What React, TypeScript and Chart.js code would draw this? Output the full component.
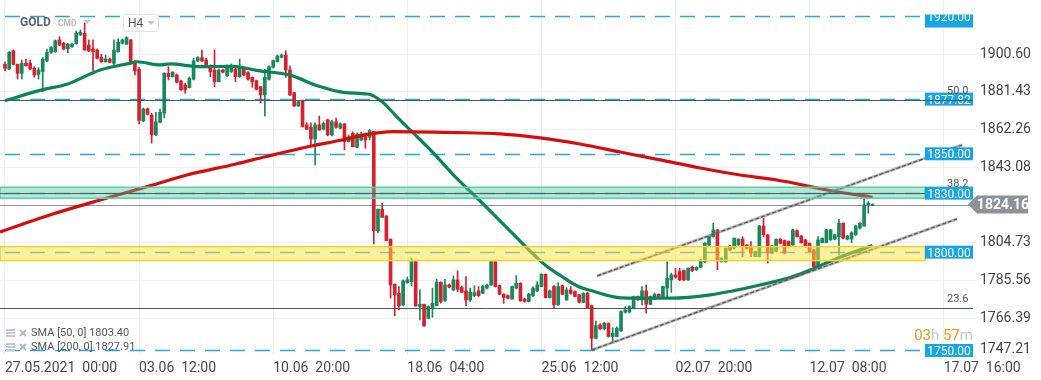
import React, { useEffect, useRef } from 'react';
import { Chart, registerables } from 'chart.js';

Chart.register(...registerables);

// ---- candle data (H4, GOLD) ----
const opens = [1895.5,1893.1,1902.3,1895.5,1890.9,1896.0,1896.0,1893.5,1890.4,1891.8,
1897.2,1901.6,1901.9,1907.9,1906.2,1903.3,1904.5,1906.0,1910.4,1911.3,
1905.3,1903.3,1902.8,1899.1,1896.8,1898.2,1896.0,1901.9,1906.2,1905.7,
1907.9,1896.8,1892.9,1866.7,1872.8,1869.7,1859.6,1866.0,1870.6,1890.9,
1889.2,1890.1,1887.0,1885.0,1883.6,1887.9,1897.2,1898.9,1897.7,1893.8,
1892.6,1886.7,1892.6,1889.7,1891.8,1893.0,1889.2,1893.0,1891.3,1888.9,
1887.2,1884.1,1879.9,1887.9,1894.0,1896.8,1899.1,1900.2,1892.6,1881.1,
1874.3,1876.9,1864.7,1863.5,1857.5,1864.7,1862.5,1867.2,1859.6,1866.3,
1863.0,1865.2,1856.2,1860.4,1853.3,1857.0,1860.4,1858.4,1861.3,1810.9,
1821.8,1818.4,1806.6,1783.7,1779.1,1773.2,1784.5,1785.0,1795.2,1772.3,
1773.5,1766.4,1771.5,1772.8,1784.7,1775.4,1783.3,1780.8,1785.9,1782.0,
1780.3,1775.7,1777.9,1780.3,1779.1,1781.7,1783.3,1795.2,1783.0,1778.6,
1777.9,1776.2,1781.7,1784.2,1776.2,1774.9,1777.9,1780.3,1782.5,1788.8,
1776.9,1782.5,1773.2,1783.0,1775.7,1780.8,1779.9,1778.3,1774.5,1779.1,
1772.8,1756.2,1763.0,1761.0,1763.9,1757.1,1757.1,1759.9,1769.5,1769.5,
1771.5,1777.4,1775.7,1780.3,1773.5,1776.2,1778.6,1777.4,1781.7,1785.9,
1788.4,1790.1,1790.6,1785.9,1792.3,1791.0,1792.3,1795.2,1803.7,1807.9,
1811.3,1795.2,1795.2,1802.8,1802.0,1803.7,1806.6,1803.7,1802.8,1797.7,
1797.7,1813.3,1808.8,1799.5,1800.3,1806.6,1805.9,1805.4,1803.7,1810.9,
1808.2,1806.2,1804.5,1801.1,1792.6,1804.8,1804.8,1806.2,1806.6,1807.9,
1814.7,1806.6,1806.6,1808.8,1812.2,1813.3,1824.0,1823.9];

const highs = [1896.8,1901.9,1902.8,1895.7,1897.7,1898.1,1897.7,1894.3,1893.8,1898.9,
1903.3,1904.5,1907.9,1909.6,1906.7,1906.2,1906.3,1912.4,1913.0,1916.5,
1907.9,1907.9,1903.3,1900.6,1900.2,1898.7,1907.9,1908.4,1908.4,1909.6,
1908.1,1897.7,1894.0,1873.3,1873.3,1870.6,1871.1,1872.8,1891.2,1894.3,
1891.8,1890.6,1887.5,1885.9,1889.1,1898.6,1899.4,1902.8,1898.6,1895.2,
1902.8,1893.1,1893.1,1895.2,1895.7,1893.5,1898.1,1893.6,1891.8,1889.1,
1887.5,1884.3,1893.0,1894.7,1897.7,1900.2,1900.8,1902.4,1894.7,1881.3,
1876.9,1877.4,1865.8,1865.8,1865.8,1869.2,1866.2,1867.7,1867.2,1868.1,
1865.7,1865.4,1859.6,1861.1,1860.6,1861.1,1860.6,1862.5,1861.5,1822.0,
1824.9,1818.6,1806.7,1783.8,1782.5,1785.9,1787.3,1796.9,1795.5,1780.8,
1773.6,1772.7,1781.7,1786.2,1784.9,1786.2,1783.8,1787.9,1790.5,1782.8,
1787.6,1781.7,1783.0,1782.5,1783.3,1783.8,1795.4,1795.4,1783.3,1778.8,
1778.3,1782.8,1788.1,1784.4,1776.6,1779.1,1782.5,1785.0,1788.9,1788.9,
1780.8,1783.0,1784.5,1783.3,1782.0,1782.5,1780.3,1778.6,1779.4,1779.6,
1773.0,1765.0,1763.5,1764.4,1764.0,1761.6,1762.0,1770.1,1772.3,1772.7,
1777.7,1777.7,1782.5,1783.3,1777.7,1779.1,1778.8,1782.8,1795.2,1789.3,
1791.8,1791.8,1791.0,1792.0,1793.0,1792.6,1796.4,1804.7,1808.2,1814.7,
1811.5,1797.2,1802.1,1803.4,1807.2,1806.9,1807.9,1803.9,1805.4,1800.6,
1813.6,1817.2,1809.0,1803.4,1806.7,1806.9,1806.2,1805.7,1811.6,1811.3,
1808.5,1806.6,1804.7,1801.4,1807.9,1807.2,1811.6,1811.6,1809.0,1816.7,
1814.9,1808.5,1810.4,1813.6,1815.0,1826.9,1825.7,1824.5];

const lows = [1892.1,1892.8,1895.2,1888.0,1888.0,1894.6,1892.6,1888.9,1888.0,1881.6,
1896.8,1901.1,1901.6,1905.0,1902.8,1901.4,1904.1,1905.7,1910.2,1902.6,
1901.9,1892.1,1898.2,1896.5,1896.5,1896.2,1895.5,1901.7,1905.8,1905.5,
1896.6,1890.1,1865.2,1866.2,1869.7,1855.4,1859.2,1865.7,1868.4,1887.5,
1889.0,1886.0,1882.2,1880.8,1883.5,1887.5,1896.8,1896.8,1893.8,1889.2,
1884.1,1886.5,1891.1,1889.2,1891.3,1886.7,1888.9,1889.6,1887.5,1883.8,
1882.5,1876.0,1869.2,1887.5,1893.6,1896.7,1898.7,1888.9,1879.7,1874.1,
1874.1,1863.6,1862.3,1854.5,1844.3,1861.9,1862.1,1859.1,1859.1,1863.0,
1862.6,1852.0,1856.0,1853.5,1853.0,1856.8,1852.8,1857.0,1804.2,1809.9,
1817.6,1805.7,1776.6,1767.6,1770.6,1772.7,1784.2,1782.8,1772.4,1765.5,
1762.2,1766.1,1766.9,1772.6,1774.0,1774.9,1781.8,1780.3,1779.9,1779.3,
1772.8,1774.9,1777.4,1777.4,1778.8,1781.3,1783.1,1782.3,1778.3,1774.0,
1776.2,1776.0,1781.3,1775.0,1774.5,1774.7,1777.4,1779.9,1782.3,1776.7,
1776.6,1771.8,1772.9,1778.3,1775.5,1778.6,1777.2,1774.2,1774.2,1771.3,
1750.3,1755.9,1760.5,1760.5,1756.9,1754.2,1756.9,1759.7,1769.0,1769.1,
1771.1,1775.5,1773.2,1769.0,1773.2,1776.0,1777.2,1777.2,1777.2,1779.6,
1786.7,1785.5,1785.4,1785.6,1790.1,1790.7,1792.0,1794.7,1803.4,1807.6,
1791.0,1794.9,1795.0,1800.6,1801.6,1803.4,1797.7,1801.6,1797.7,1797.6,
1797.5,1807.9,1794.4,1799.1,1800.1,1804.2,1799.1,1802.9,1803.4,1807.6,
1804.5,1802.5,1800.1,1792.5,1792.3,1804.7,1804.7,1806.0,1806.2,1798.6,
1806.7,1806.2,1804.8,1808.5,1811.7,1813.1,1819.8,1823.7];

const closes = [1893.5,1901.6,1895.5,1890.9,1896.0,1894.8,1893.1,1890.1,1892.6,1898.2,
1901.6,1904.0,1907.5,1905.3,1903.3,1905.7,1905.8,1911.3,1911.8,1902.8,
1902.3,1901.9,1898.6,1896.8,1898.2,1896.5,1902.8,1906.7,1907.9,1909.0,
1896.8,1892.1,1867.0,1872.8,1870.1,1859.6,1866.3,1871.1,1890.9,1889.2,
1891.5,1886.4,1882.5,1882.5,1888.4,1897.2,1898.9,1897.2,1894.3,1891.8,
1886.7,1892.6,1891.5,1894.3,1893.5,1889.2,1894.0,1890.1,1887.9,1886.7,
1882.8,1879.9,1888.9,1894.3,1897.4,1899.7,1900.2,1892.6,1879.9,1874.3,
1876.5,1863.8,1862.5,1857.5,1864.7,1862.1,1865.5,1859.6,1866.3,1863.5,
1865.2,1856.2,1858.7,1853.6,1859.9,1860.1,1857.0,1861.8,1810.9,1821.8,
1817.7,1805.9,1783.3,1778.3,1772.8,1785.4,1785.9,1795.2,1772.7,1773.5,
1762.5,1772.3,1774.0,1784.7,1774.9,1783.3,1782.2,1785.9,1781.1,1779.6,
1775.7,1779.6,1779.4,1777.9,1782.5,1783.3,1795.2,1782.5,1778.6,1776.9,
1776.6,1782.5,1784.2,1775.2,1774.9,1778.6,1781.7,1783.3,1788.8,1776.9,
1780.3,1773.2,1782.5,1778.6,1780.8,1779.1,1777.4,1774.5,1779.1,1771.5,
1756.2,1762.6,1761.0,1763.9,1757.1,1758.8,1761.3,1769.8,1770.6,1772.3,
1777.4,1775.7,1780.3,1773.5,1777.4,1778.6,1777.4,1782.5,1786.7,1788.4,
1787.3,1785.9,1785.9,1791.8,1790.6,1792.3,1796.0,1804.5,1807.9,1811.3,
1796.0,1796.9,1802.0,1801.1,1807.1,1806.6,1802.8,1802.0,1799.5,1800.3,
1813.3,1808.8,1799.5,1803.2,1806.6,1804.5,1799.5,1803.2,1811.3,1807.9,
1804.8,1802.8,1800.3,1792.6,1806.2,1807.1,1811.3,1811.3,1808.8,1814.7,
1807.1,1808.2,1809.9,1813.3,1814.7,1824.0,1824.9,1824.16];

// ---- moving averages (read at sample candles) ----
const sma50Idx = [0, 8.8, 14.8, 22.7, 29.8, 31.5, 37, 39.4, 46.5, 54.4, 60.4, 68, 74.7, 81.1, 86.6, 90, 93.8, 97.9, 101.9, 107.4, 113.4, 120.5, 128.9, 132.9, 136.8, 140.8, 144.9, 148.7, 158.7, 168.3, 180.2, 188.1, 192.8, 198.6, 207];
const sma50Val = [1877.0, 1882.5, 1885.4, 1892.6, 1896.0, 1896.8, 1895.2, 1895.7, 1894.3, 1894.5, 1892.3, 1890.0, 1884.5, 1881.1, 1880.4, 1876.5, 1868.1, 1859.6, 1851.1, 1838.4, 1826.0, 1810.8, 1793.5, 1787.6, 1782.5, 1779.9, 1777.4, 1776.6, 1776.6, 1778.3, 1783.3, 1787.6, 1791.5, 1796.9, 1803.4];
const sma200Idx = [-1.2, 10.7, 22.7, 34.6, 43.4, 54.9, 62.1, 72.3, 80.4, 85.9, 92.4, 107.4, 118.1, 127.7, 137.2, 146.8, 156.3, 165.9, 175.4, 184.2, 196.2, 207];
const sma200Val = [1810.3, 1818.9, 1826.5, 1833.7, 1839.2, 1844.7, 1848.5, 1853.6, 1857.0, 1859.6, 1861.3, 1860.8, 1860.1, 1858.1, 1855.0, 1850.9, 1846.9, 1842.8, 1839.2, 1836.7, 1831.6, 1827.9];

// ---- channel (trend lines) ----
const upperChannelIdx = [141.3, 228.4];
const upperChannelVal = [1787.9, 1854.5];
const lowerChannelIdx = [140.1, 227.2];
const lowerChannelVal = [1750.3, 1816.9];

// ---- axes ----
const xTickIdx = [0, 32, 64, 96, 128, 160, 192, 224];
const xTickLabels = ['27.05.2021  00:00', '03.06  12:00', '10.06  20:00', '18.06  04:00', '25.06  12:00', '02.07  20:00', '12.07  08:00', '17.07  16:00'];
const yTickValues = [1900.60, 1881.43, 1862.26, 1843.08, 1823.91, 1804.73, 1785.56, 1766.39];
const yBottomTick = 1747.21;

// ---- levels ----
const priceLevels = [1920.00, 1877.82, 1850.00, 1830.00, 1800.00, 1750.00];
const fibValues = [1877.4, 1830.1, 1771.5];
const fibNames = ['50.0', '38.2', '23.6'];
const tealZone = [1827.4, 1833.0];
const yellowZone = [1795.7, 1802.8];
const lastPrice = 1824.16;
const legendRows = ['SMA [50, 0] 1803.40', 'SMA [200, 0] 1827.91'];
const countdown = [['03', 'o'], ['h', 'g'], [' ', 'g'], ['57', 'o'], ['m', 'g']];

const NARROW = "'Liberation Sans Narrow', 'Arial Narrow', Roboto, sans-serif";
const UI = "Roboto, 'Noto Sans', sans-serif";
const UP = '#17885a';
const DOWN = '#d6202f';

const overlay = {
  id: 'overlay',
  beforeDatasetsDraw(chart: any) {
    const { ctx } = chart;
    const ys = chart.scales.y;
    ctx.save();
    ctx.strokeStyle = '#27a7e1';
    ctx.lineWidth = 1.5;
    ctx.setLineDash([15, 10]);
    priceLevels.forEach((p) => {
      const y = Math.round(ys.getPixelForValue(p)) + 0.5;
      ctx.beginPath();
      ctx.moveTo(5, y);
      ctx.lineTo(925, y);
      ctx.stroke();
    });
    ctx.setLineDash([]);
    const ly = Math.round(ys.getPixelForValue(lastPrice)) + 0.5;
    ctx.strokeStyle = '#8e969b';
    ctx.lineWidth = 1;
    ctx.beginPath();
    ctx.moveTo(0, ly);
    ctx.lineTo(970, ly);
    ctx.stroke();
    ctx.restore();
  },
  afterDatasetsDraw(chart: any) {
    const { ctx } = chart;
    const ys = chart.scales.y;
    ctx.save();
    // zones
    const zone = (lo: number, hi: number, fill: string, stroke: string) => {
      const t = ys.getPixelForValue(hi);
      const b = ys.getPixelForValue(lo);
      ctx.fillStyle = fill;
      ctx.fillRect(0, t, 925, b - t);
      ctx.strokeStyle = stroke;
      ctx.lineWidth = 1.5;
      ctx.strokeRect(0, t, 925, b - t);
    };
    zone(tealZone[0], tealZone[1], 'rgba(72, 199, 152, 0.42)', '#5ccfa5');
    zone(yellowZone[0], yellowZone[1], 'rgba(255, 228, 60, 0.5)', '#f5d02f');

    // fib lines (under the tags, except the 50% one which crosses its tag)
    const drawFib = (i: number) => {
      const y = Math.round(ys.getPixelForValue(fibValues[i])) + 0.5;
      ctx.strokeStyle = '#455a64';
      ctx.lineWidth = 1;
      ctx.beginPath();
      ctx.moveTo(0, y);
      ctx.lineTo(973, y);
      ctx.stroke();
      ctx.fillStyle = '#555';
      ctx.font = `11px ${UI}`;
      ctx.textAlign = 'left';
      ctx.textBaseline = 'middle';
      ctx.fillText(fibNames[i], 947, y - 9);
    };
    drawFib(1);
    drawFib(2);

    // price tags
    priceLevels.forEach((p) => {
      const y = ys.getPixelForValue(p);
      const cy = Math.max(y, 21);
      ctx.save();
      ctx.fillStyle = '#17a6e5';
      ctx.fillRect(925, cy - 6.5, 48, 13);
      ctx.beginPath();
      ctx.rect(925, cy - 6.5, 48, 13);
      ctx.clip();
      ctx.fillStyle = '#ffffff';
      ctx.font = `12px ${NARROW}`;
      ctx.textAlign = 'center';
      ctx.textBaseline = 'middle';
      ctx.fillText(p.toFixed(2), 949, y + 1.5);
      ctx.restore();
    });
    drawFib(0);

    // current price tag
    const y = ys.getPixelForValue(lastPrice);
    ctx.fillStyle = '#8c9398';
    ctx.beginPath();
    ctx.moveTo(968, y);
    ctx.lineTo(977, y - 9);
    ctx.lineTo(1028, y - 9);
    ctx.lineTo(1028, y + 9);
    ctx.lineTo(977, y + 9);
    ctx.closePath();
    ctx.fill();
    ctx.fillStyle = '#ffffff';
    ctx.font = `bold 14px ${NARROW}`;
    ctx.textAlign = 'center';
    ctx.textBaseline = 'middle';
    ctx.fillText(lastPrice.toFixed(2), 1003, y + 1);

    // bottom axis label clamped inside
    ctx.fillStyle = '#444';
    ctx.font = `14px ${NARROW}`;
    ctx.textAlign = 'left';
    ctx.fillText(yBottomTick.toFixed(2), 980, 349);

    // header
    ctx.textAlign = 'left';
    ctx.fillStyle = '#5b646c';
    ctx.font = `bold 12px ${UI}`;
    ctx.fillText('GOLD', 20, 23);
    ctx.fillStyle = '#b4b9be';
    ctx.font = `bold 8.5px ${UI}`;
    ctx.fillText('CMD', 58, 24);
    ctx.fillStyle = '#c3c7cb';
    ctx.beginPath();
    ctx.moveTo(83, 20); ctx.lineTo(91, 20); ctx.lineTo(87, 24); ctx.closePath(); ctx.fill();
    ctx.fillStyle = '#ffffff';
    ctx.strokeStyle = '#dfe2e5';
    ctx.lineWidth = 1;
    ctx.beginPath();
    (ctx as any).roundRect(123.5, 14.5, 35, 17, 3);
    ctx.fill();
    ctx.stroke();
    ctx.fillStyle = '#555';
    ctx.font = `12px ${UI}`;
    ctx.fillText('H4', 128, 23.5);
    ctx.fillStyle = '#c3c7cb';
    ctx.beginPath();
    ctx.moveTo(147, 21); ctx.lineTo(155, 21); ctx.lineTo(151, 25); ctx.closePath(); ctx.fill();

    // indicator legend
    legendRows.forEach((t, i) => {
      const ry = 333 + i * 14;
      ctx.fillStyle = '#c4c8cc';
      ctx.fillRect(6, ry - 4, 9, 2);
      ctx.fillRect(6, ry - 1, 9, 2);
      ctx.fillRect(6, ry + 2, 9, 2);
      ctx.strokeStyle = '#b5b9bd';
      ctx.lineWidth = 2;
      ctx.beginPath();
      ctx.moveTo(20, ry - 3); ctx.lineTo(26, ry + 3);
      ctx.moveTo(26, ry - 3); ctx.lineTo(20, ry + 3);
      ctx.stroke();
      ctx.fillStyle = '#555';
      ctx.font = `11px ${UI}`;
      ctx.fillText(t, 31, ry);
    });

    // countdown
    ctx.font = `15px ${UI}`;
    const total = countdown.reduce((s, c) => s + ctx.measureText(c[0]).width, 0);
    let cx = 973 - total;
    countdown.forEach((c) => {
      ctx.fillStyle = c[1] === 'o' ? '#f7941d' : '#c6c6c6';
      ctx.fillText(c[0], cx, 336);
      cx += ctx.measureText(c[0]).width;
    });
    ctx.restore();
  },
};

export default function App() {
  const ref = useRef<HTMLCanvasElement | null>(null);
  useEffect(() => {
    if (!ref.current) return;
    const idx = opens.map((_, i) => i);
    const colors = idx.map((i) => (closes[i] >= opens[i] ? UP : DOWN));
    const chart = new Chart(ref.current, {
      type: 'bar',
      data: {
        datasets: [
          {
            type: 'line',
            data: upperChannelIdx.map((x, i) => ({ x, y: upperChannelVal[i] })),
            borderColor: 'rgba(120,120,120,0.55)',
            borderWidth: 3,
            pointRadius: 0,
            order: 1,
          } as any,
          {
            type: 'line',
            data: upperChannelIdx.map((x, i) => ({ x, y: upperChannelVal[i] })),
            borderColor: '#555',
            borderWidth: 1.2,
            borderDash: [4, 2],
            pointRadius: 0,
            order: 0,
          } as any,
          {
            type: 'line',
            data: lowerChannelIdx.map((x, i) => ({ x, y: lowerChannelVal[i] })),
            borderColor: 'rgba(120,120,120,0.55)',
            borderWidth: 3,
            pointRadius: 0,
            order: 1,
          } as any,
          {
            type: 'line',
            data: lowerChannelIdx.map((x, i) => ({ x, y: lowerChannelVal[i] })),
            borderColor: '#555',
            borderWidth: 1.2,
            borderDash: [4, 2],
            pointRadius: 0,
            order: 0,
          } as any,
          {
            type: 'line',
            data: sma200Idx.map((x, i) => ({ x, y: sma200Val[i] })),
            borderColor: '#d70d0d',
            borderWidth: 3.2,
            pointRadius: 0,
            cubicInterpolationMode: 'monotone',
            order: 2,
          } as any,
          {
            type: 'line',
            data: sma50Idx.map((x, i) => ({ x, y: sma50Val[i] })),
            borderColor: '#0b8456',
            borderWidth: 3.2,
            pointRadius: 0,
            cubicInterpolationMode: 'monotone',
            order: 2,
          } as any,
          {
            type: 'bar',
            data: idx.map((i) => ({ x: i, y: [opens[i], closes[i]] })),
            backgroundColor: colors,
            barThickness: 3,
            minBarLength: 1,
            grouped: false,
            order: 3,
          } as any,
          {
            type: 'bar',
            data: idx.map((i) => ({ x: i, y: [lows[i], highs[i]] })),
            backgroundColor: colors,
            barThickness: 1,
            grouped: false,
            order: 4,
          } as any,
        ],
      },
      options: {
        animation: false,
        responsive: false,
        events: [],
        layout: { padding: 0 },
        plugins: { legend: { display: false }, tooltip: { enabled: false } },
        scales: {
          x: {
            type: 'linear',
            min: -1.19,
            max: 231.7,
            offset: false,
            afterBuildTicks: (s: any) => {
              s.ticks = xTickIdx.map((v) => ({ value: v }));
            },
            afterFit: (s: any) => {
              s.height = 25;
              s.paddingLeft = 0;
              s.paddingRight = 0;
            },
            ticks: {
              callback: (_v: any, i: number) => xTickLabels[i],
              align: 'start',
              padding: 5,
              maxRotation: 0,
              autoSkip: false,
              color: '#4a4a4a',
              font: { family: NARROW, size: 14 },
            },
            grid: { color: '#eceff1', drawTicks: false, offset: false },
            border: { display: false },
          },
          y: {
            type: 'linear',
            position: 'right',
            min: 1747.7,
            max: 1928.2,
            afterBuildTicks: (s: any) => {
              s.ticks = yTickValues.map((v) => ({ value: v }));
            },
            afterFit: (s: any) => {
              s.width = 65;
              s.paddingTop = 0;
              s.paddingBottom = 0;
            },
            ticks: {
              callback: (v: any) => Number(v).toFixed(2),
              padding: 4,
              color: '#444',
              font: { family: NARROW, size: 14 },
            },
            grid: { color: '#eef0f2', drawTicks: false },
            border: { display: false },
          },
        },
      } as any,
      plugins: [overlay],
    });
    return () => chart.destroy();
  }, []);
  return (
    <div style={{ position: 'fixed', left: 0, top: 0, width: 1041, height: 380, background: '#fff' }}>
      <canvas ref={ref} width={1041} height={380} style={{ width: 1041, height: 380, display: 'block' }} />
    </div>
  );
}
